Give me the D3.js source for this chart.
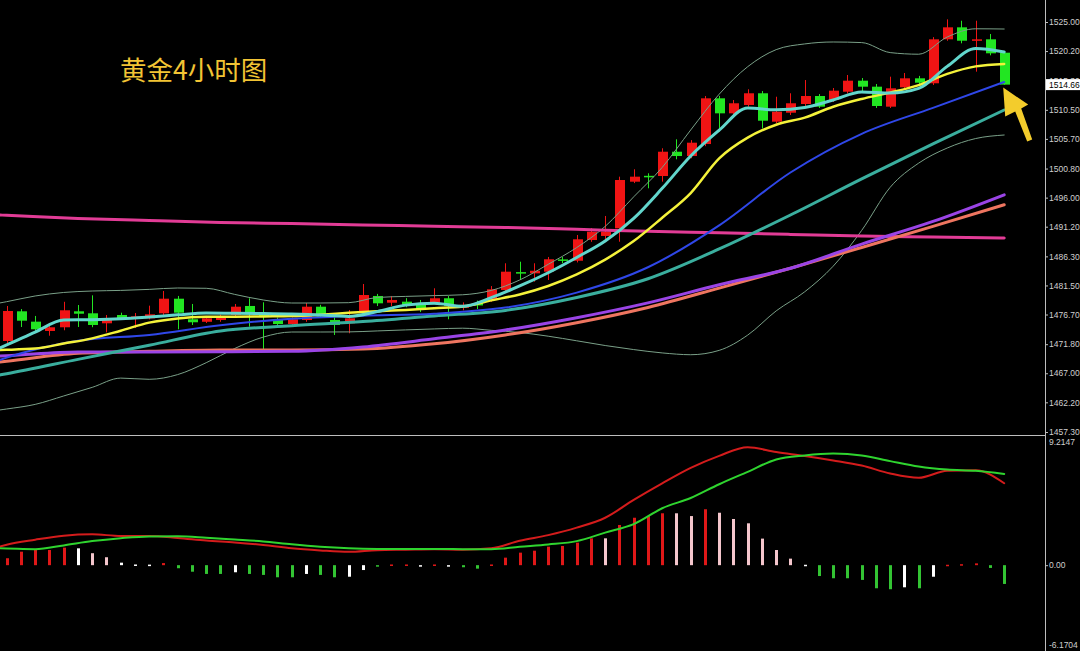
<!DOCTYPE html>
<html><head><meta charset="utf-8">
<script src="https://cdn.jsdelivr.net/npm/d3@7/dist/d3.min.js"></script>
<style>html,body{margin:0;padding:0;background:#000;}svg{display:block;}</style>
</head><body>
<svg id="c" width="1080" height="651"></svg>
<script>
// ---------- DATA ----------
const candleOpen = [1472.33,1477.23,1475.52,1473.98,1474.59,1477.23,1476.90,1475.25,1476.62,1476.20,1476.07,1476.90,1479.31,1475.91,1475.50,1475.79,1476.62,1478.11,1476.90,1475.91,1475.13,1475.79,1477.99,1475.79,1475.25,1477.17,1479.76,1478.65,1478.82,1478.55,1478.65,1479.38,1477.80,1478.60,1479.10,1480.75,1483.70,1483.50,1483.77,1485.80,1485.58,1489.00,1489.67,1490.93,1498.63,1499.60,1499.57,1503.58,1502.87,1504.85,1512.40,1509.92,1511.30,1513.23,1508.54,1510.02,1511.46,1512.78,1512.12,1513.49,1515.31,1514.32,1511.02,1514.22,1515.70,1514.88,1522.14,1524.12,1521.91,1522.14,1519.93];
const candleHigh = [1478.11,1477.60,1476.46,1475.30,1478.80,1478.27,1479.87,1476.62,1477.00,1476.95,1478.16,1480.58,1479.76,1478.44,1476.46,1476.70,1478.44,1479.38,1478.72,1476.20,1476.20,1478.60,1478.30,1476.90,1477.45,1481.74,1480.10,1479.76,1479.40,1479.10,1481.03,1479.76,1478.70,1479.00,1481.40,1485.16,1485.42,1485.16,1486.20,1486.20,1489.83,1490.98,1492.97,1499.46,1500.68,1500.02,1504.15,1505.63,1505.50,1512.78,1512.80,1512.12,1513.89,1513.60,1512.66,1513.23,1515.42,1513.10,1514.10,1516.25,1515.75,1514.76,1515.97,1516.58,1516.10,1522.50,1525.44,1525.21,1525.21,1523.02,1520.20];
const candleLow = [1472.00,1474.64,1473.98,1473.20,1474.10,1474.64,1474.60,1473.76,1475.80,1474.47,1475.90,1476.60,1474.26,1474.97,1475.30,1475.50,1476.30,1474.69,1470.84,1474.80,1474.80,1475.50,1476.30,1473.32,1473.60,1476.90,1478.10,1478.10,1477.90,1477.10,1478.40,1475.91,1477.40,1477.60,1478.80,1480.40,1482.40,1482.12,1482.40,1485.20,1485.30,1488.70,1489.00,1488.72,1498.40,1497.54,1498.64,1502.33,1502.50,1504.50,1506.89,1509.60,1511.00,1507.45,1508.30,1509.64,1511.10,1510.80,1511.80,1513.20,1513.28,1510.80,1510.80,1513.90,1514.60,1514.60,1521.90,1521.48,1516.80,1519.50,1514.66];
const candleClose = [1477.28,1475.68,1474.26,1474.59,1477.40,1476.83,1474.97,1475.79,1476.12,1476.40,1476.73,1479.31,1477.00,1475.42,1476.07,1476.34,1477.99,1476.90,1476.34,1475.13,1475.91,1477.99,1476.62,1474.97,1476.07,1479.92,1478.55,1479.10,1478.27,1477.56,1479.38,1478.11,1478.30,1478.20,1480.86,1483.77,1483.50,1483.93,1485.82,1485.60,1489.12,1490.37,1490.37,1498.91,1499.46,1499.50,1503.58,1502.87,1505.07,1512.40,1509.92,1511.58,1513.23,1508.70,1510.19,1511.58,1512.78,1511.02,1513.66,1515.31,1514.32,1511.13,1514.05,1515.70,1514.98,1522.14,1524.12,1521.91,1522.14,1519.83,1514.66];

// slow lines sampled at these bar indices
const slowIdx = [-0.5,0,5,10,15,20,25,30,35,40,45,50,55,60,65,70];
const maPink   = [1493.13,1493.08,1492.57,1492.22,1491.91,1491.71,1491.50,1491.28,1491.07,1490.76,1490.43,1490.19,1489.93,1489.66,1489.50,1489.33];
const maPurple = [1469.85,1469.90,1470.51,1470.51,1470.54,1470.63,1471.34,1472.69,1474.14,1476.17,1478.62,1481.61,1484.33,1488.33,1492.07,1496.47];
const maSalmon = [1468.86,1468.99,1470.31,1470.63,1470.84,1470.84,1471.00,1471.86,1473.33,1475.35,1477.87,1481.06,1484.35,1487.77,1491.25,1494.83];
const maTeal   = [1466.71,1466.93,1469.29,1471.63,1473.98,1474.84,1475.53,1476.46,1477.38,1479.51,1482.60,1487.52,1493.13,1499.09,1504.86,1510.47];
const maBlue   = [1469.19,1469.58,1472.36,1473.33,1474.92,1476.00,1476.50,1476.84,1477.84,1480.32,1484.50,1491.43,1500.15,1506.54,1510.83,1515.09];

// fast lines sampled at these bar indices
const fastIdx = [-0.5,0,2,4,6,8,10,12,14,16,18,20,22,24,26,28,30,32,34,36,38,40,42,44,46,48,50,52,54,56,58,60,62,64,66,68,70];
const maCyan   = [1471.17,1471.67,1473.81,1475.79,1475.84,1475.99,1476.29,1476.65,1476.95,1476.90,1476.85,1476.80,1476.62,1476.39,1477.18,1478.25,1478.58,1478.07,1479.49,1481.41,1483.60,1486.12,1488.84,1492.57,1497.53,1502.87,1507.13,1510.80,1510.50,1510.88,1512.12,1513.44,1513.27,1514.05,1517.67,1520.62,1520.05];
const maYellow = [1470.84,1470.87,1471.07,1471.90,1472.76,1474.03,1475.36,1476.06,1476.31,1476.34,1476.39,1476.44,1476.67,1476.98,1477.25,1477.46,1477.73,1478.02,1479.03,1480.01,1481.41,1483.32,1485.77,1488.82,1492.67,1496.76,1502.48,1505.90,1508.04,1509.21,1511.01,1512.30,1513.34,1514.57,1516.43,1517.67,1518.07];
const bandUpper = [1478.60,1478.82,1479.76,1480.34,1480.58,1480.68,1480.85,1481.08,1481.03,1480.02,1479.10,1478.60,1478.60,1478.65,1479.51,1479.69,1479.82,1479.96,1480.67,1482.40,1484.99,1487.75,1491.25,1496.13,1500.99,1507.17,1513.08,1517.62,1520.44,1521.38,1521.70,1521.60,1519.95,1519.68,1522.52,1523.88,1523.84];
const bandLower = [1460.93,1461.10,1461.86,1463.25,1464.67,1466.20,1466.00,1466.78,1468.74,1471.09,1472.97,1473.81,1473.81,1473.83,1473.99,1474.16,1474.32,1474.44,1474.09,1473.73,1473.12,1472.36,1471.58,1470.91,1470.36,1470.06,1470.78,1473.30,1477.30,1480.45,1484.68,1490.59,1497.71,1501.70,1504.19,1505.76,1506.34];
const macdMain   = [1.33,1.47,1.83,2.12,2.22,2.10,2.10,1.96,1.77,1.63,1.45,1.21,1.06,0.96,1.08,1.11,1.14,1.11,1.21,1.75,2.16,2.70,3.41,4.69,5.88,6.99,7.86,8.48,8.13,7.85,7.53,7.16,6.59,6.28,6.79,6.82,5.89];
const macdSignal = [1.21,1.20,1.15,1.42,1.73,1.94,2.07,2.08,1.98,1.85,1.71,1.50,1.33,1.22,1.17,1.16,1.16,1.15,1.14,1.32,1.49,1.73,2.34,2.95,4.09,4.83,5.82,6.71,7.60,7.89,8.02,7.89,7.48,7.09,6.87,6.78,6.56];

// MACD histogram, one per bar; kind: r=rising red, p=falling pink, w=white, g=green
const histValue = [0.50,0.97,1.09,1.09,1.26,1.21,0.86,0.57,0.18,0.05,0.04,0.15,-0.22,-0.47,-0.63,-0.63,-0.51,-0.63,-0.70,-0.87,-0.87,-0.63,-0.70,-0.87,-0.83,-0.35,-0.08,0.05,0.05,-0.04,0.05,-0.04,-0.15,-0.25,0.05,0.54,0.90,1.04,1.33,1.38,1.62,1.93,1.93,2.89,3.41,3.53,3.73,3.73,3.53,4.02,3.77,3.32,3.01,1.91,1.09,0.47,0.03,-0.78,-0.94,-0.94,-1.06,-1.66,-1.73,-1.59,-1.66,-0.83,0.03,0.07,0.13,-0.20,-1.35];
const histKind  = "rrrrrwppwwwrggggwggggwggwwgrrwrwggrrrrrrrrprrrrpprppppppwggggggwgwrrrgg";

const priceTicks = [1525.00,1520.20,1515.30,1510.50,1505.70,1500.80,1496.00,1491.20,1486.30,1481.50,1476.70,1471.80,1467.00,1462.20,1457.30];
const macdTicks = [9.2147,0.00,-6.1704];
const macdTickLabels = ["9.2147","0.00","-6.1704"];
const lastPrice = 1514.66;
const titleText = "黄金4小时图";

// ---------- CHART ----------
const svg = d3.select("#c");
svg.append("rect").attr("width",1080).attr("height",651).attr("fill","#000");

const plotR = 1045, upB = 434, loT = 437, loB = 651;
const x = d3.scaleLinear().domain([0,70]).range([6.7,1004.2]);
const yP = d3.scaleLinear().domain([1457.3,1525]).range([432,22]);
const yM = d3.scaleLinear().domain([-6.1704,9.2147]).range([651,437]);

const defs = svg.append("defs");
defs.append("clipPath").attr("id","cu").append("rect").attr("x",0).attr("y",0).attr("width",plotR).attr("height",upB);
defs.append("clipPath").attr("id","cl").append("rect").attr("x",0).attr("y",loT).attr("width",plotR).attr("height",loB-loT);

const up = svg.append("g").attr("clip-path","url(#cu)");
const lo = svg.append("g").attr("clip-path","url(#cl)");

// candles
const bars = d3.range(candleOpen.length).map(i=>({i,o:candleOpen[i],h:candleHigh[i],l:candleLow[i],c:candleClose[i]}));
const RED="#f01414", GRN="#22e622";
const cg = up.append("g");
cg.selectAll("line.w").data(bars).join("line")
  .attr("x1",d=>Math.round(x(d.i))+0.5).attr("x2",d=>Math.round(x(d.i))+0.5)
  .attr("y1",d=>yP(d.h)).attr("y2",d=>yP(d.l))
  .attr("stroke",d=>d.c>=d.o?RED:GRN).attr("stroke-width",1);
cg.selectAll("rect.b").data(bars).join("rect")
  .attr("x",d=>Math.round(x(d.i))-4).attr("width",10)
  .attr("y",d=>yP(Math.max(d.o,d.c)))
  .attr("height",d=>Math.max(1.5,Math.abs(yP(d.o)-yP(d.c))))
  .attr("fill",d=>d.c>=d.o?RED:GRN);

function drawLine(g, idx, vals, ys, color, w){
  const pts = idx.map((k,j)=>[x(k), ys(vals[j])]);
  g.append("path").attr("d", d3.line().curve(d3.curveMonotoneX)(pts))
   .attr("fill","none").attr("stroke",color).attr("stroke-width",w)
   .attr("stroke-linejoin","round").attr("stroke-linecap","round");
}
// indicator lines (drawn over candles)
drawLine(up, fastIdx, bandUpper, yP, "#7aa088", 1);
drawLine(up, fastIdx, bandLower, yP, "#7aa088", 1);
drawLine(up, slowIdx, maPink, yP, "#e23c96", 3);
drawLine(up, slowIdx, maSalmon, yP, "#ee7560", 3);
drawLine(up, slowIdx, maPurple, yP, "#9a44e6", 3);
drawLine(up, slowIdx, maTeal, yP, "#3aae9e", 3);
drawLine(up, slowIdx, maBlue, yP, "#2f47e8", 2);
drawLine(up, fastIdx, maYellow, yP, "#f4f23a", 2.5);
drawLine(up, fastIdx, maCyan, yP, "#62d6cc", 3);

// MACD histogram
const kindColor = {r:"#e01818", p:"#f4c6cc", w:"#ffffff", g:"#33c433"};
lo.selectAll("rect.h").data(histValue.map((v,i)=>({v,i,k:histKind[i]}))).join("rect")
  .attr("x",d=>Math.round(x(d.i))-1).attr("width",3)
  .attr("y",d=>Math.min(yM(0),yM(d.v)))
  .attr("height",d=>Math.max(1.5,Math.abs(yM(d.v)-yM(0))))
  .attr("fill",d=>kindColor[d.k]);
drawLine(lo, fastIdx, macdMain, yM, "#d41c1c", 2);
drawLine(lo, fastIdx, macdSignal, yM, "#2fd42f", 2);

// frame
svg.append("line").attr("x1",plotR+0.5).attr("x2",plotR+0.5).attr("y1",0).attr("y2",651).attr("stroke","#bdbdbd");
svg.append("line").attr("x1",0).attr("x2",plotR).attr("y1",435.5).attr("y2",435.5).attr("stroke","#bdbdbd");

const FONT = "Liberation Sans, Arial, sans-serif";
// price axis
const ax = svg.append("g").attr("transform",`translate(${plotR},0)`);
ax.call(d3.axisRight(yP).tickValues(priceTicks).tickSize(3).tickFormat(d3.format(".2f")));
ax.select(".domain").remove();
ax.selectAll("line").attr("stroke","#bdbdbd");
ax.selectAll("text").attr("fill","#cfcfcf").attr("font-family",FONT).attr("font-size",8.5).attr("x",4);

// MACD axis
const am = svg.append("g").attr("transform",`translate(${plotR},0)`);
am.call(d3.axisRight(yM).tickValues(macdTicks).tickSize(3).tickFormat((d,i)=>macdTickLabels[i]));
am.select(".domain").remove();
am.selectAll("line").attr("stroke","#bdbdbd");
am.selectAll(".tick").filter((d,i)=>i!==1).select("line").remove();
am.selectAll("text").attr("fill","#cfcfcf").attr("font-family",FONT).attr("font-size",8.5).attr("x",4);
am.selectAll(".tick").filter((d,i)=>i===0).select("text").attr("y",5);
am.selectAll(".tick").filter((d,i)=>i===2).select("text").attr("y",-6);

// current price box
const yl = yP(lastPrice);
svg.append("rect").attr("x",plotR+1).attr("y",yl-5.5).attr("width",35).attr("height",11).attr("fill","#fff");
svg.append("text").attr("x",plotR+4).attr("y",yl).attr("dy","0.35em").text(d3.format(".2f")(lastPrice))
  .attr("fill","#000").attr("font-family",FONT).attr("font-size",8.5);

// title
svg.append("text").attr("x",120).attr("y",80).text(titleText)
  .attr("fill","#f2c434").attr("font-family","Noto Sans CJK SC, sans-serif").attr("font-size",26.5);

// arrow pointing at last candle
const tx = x(70)-1, ty = yP(candleLow[70])+3;
const arrow = [[0,0],[25,17],[18,21],[29,52],[24,54],[12,24],[2,29]];
svg.append("path").attr("d", d3.line()(arrow.map(p=>[tx+p[0],ty+p[1]]))+"Z").attr("fill","#f3cc2c");
</script>
</body></html>
